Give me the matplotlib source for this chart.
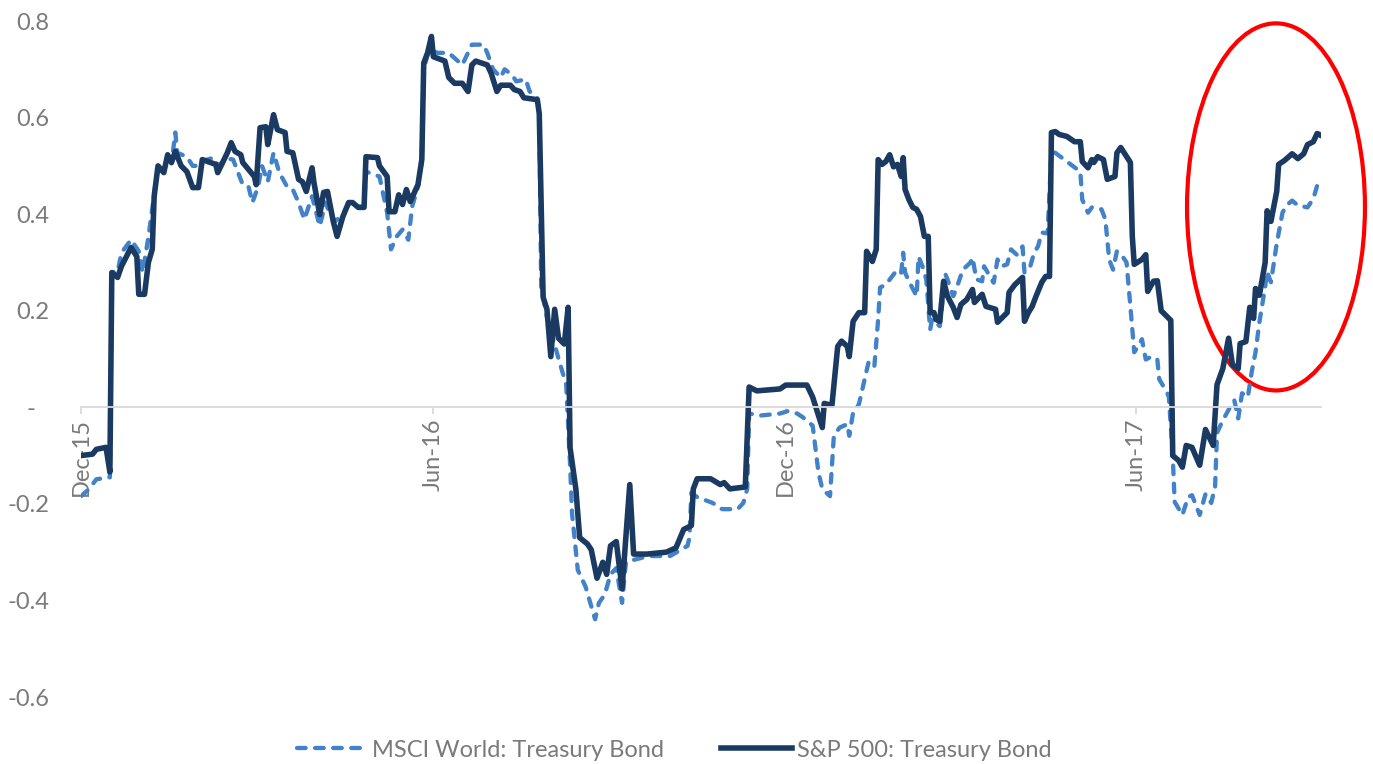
import matplotlib

matplotlib.use("Agg")
import matplotlib.dates as mdates
import matplotlib.pyplot as plt
import pandas as pd
from matplotlib.patches import Ellipse
from matplotlib.transforms import ScaledTranslation

plt.rcParams["font.family"] = ["Lato", "DejaVu Sans"]

START = pd.Timestamp("2015-12-01")
END_DAY = 644

# S&P 500 vs Treasury Bond correlation (days since 1 Dec 2015, value)
sp_days = [0, 6, 8, 13, 15, 16, 19, 21, 26, 29,
           30, 33, 35, 37, 38, 40, 43, 45, 47, 49,
           52, 55, 58, 61, 63, 70, 71, 76, 78, 80,
           83, 84, 90, 91, 93, 96, 97, 100, 102, 106,
           107, 110, 113, 115, 117, 120, 121, 124, 126, 128,
           131, 133, 136, 139, 141, 144, 147, 148, 154, 155,
           159, 160, 163, 165, 167, 169, 171, 175, 177, 178,
           180, 182, 183, 189, 191, 194, 198, 201, 203, 205,
           211, 213, 216, 218, 223, 225, 228, 230, 237, 238,
           240, 242, 244, 246, 248, 251, 253, 254, 257, 259,
           263, 265, 268, 271, 273, 275, 278, 281, 285, 287,
           294, 304, 309, 313, 317, 318, 320, 327, 332, 334,
           337, 345, 347, 351, 363, 366, 377, 380, 385, 386,
           390, 393, 395, 398, 399, 401, 404, 407, 408, 411,
           413, 414, 416, 418, 420, 422, 424, 426, 427, 428,
           430, 432, 434, 436, 438, 440, 441, 443, 444, 446,
           448, 450, 453, 455, 457, 460, 463, 464, 468, 470,
           475, 476, 479, 481, 482, 485, 489, 490, 492, 494,
           496, 499, 501, 503, 504, 506, 508, 512, 516, 519,
           520, 523, 525, 526, 528, 531, 533, 537, 538, 540,
           545, 546, 547, 551, 553, 554, 557, 559, 561, 564,
           566, 567, 570, 572, 574, 577, 581, 584, 588, 590,
           593, 596, 598, 601, 602, 605, 607, 609, 610, 612,
           615, 616, 618, 621, 622, 625, 629, 632, 635, 637,
           640, 642, 644]
sp_vals = [-0.100, -0.097, -0.087, -0.083, -0.134, 0.279, 0.269, 0.292, 0.331, 0.312,
           0.234, 0.234, 0.300, 0.327, 0.437, 0.500, 0.486, 0.523, 0.507, 0.530,
           0.500, 0.488, 0.455, 0.455, 0.513, 0.503, 0.486, 0.527, 0.548, 0.530,
           0.523, 0.507, 0.478, 0.461, 0.579, 0.581, 0.544, 0.606, 0.575, 0.569,
           0.530, 0.527, 0.472, 0.467, 0.447, 0.496, 0.465, 0.399, 0.445, 0.447,
           0.385, 0.354, 0.395, 0.424, 0.424, 0.414, 0.414, 0.519, 0.517, 0.500,
           0.478, 0.405, 0.405, 0.440, 0.420, 0.451, 0.426, 0.461, 0.513, 0.713,
           0.734, 0.768, 0.726, 0.717, 0.683, 0.671, 0.671, 0.654, 0.709, 0.717,
           0.709, 0.692, 0.654, 0.667, 0.667, 0.658, 0.654, 0.641, 0.637, 0.608,
           0.228, 0.203, 0.105, 0.203, 0.143, 0.131, 0.207, -0.084, -0.169, -0.270,
           -0.283, -0.295, -0.354, -0.321, -0.346, -0.287, -0.278, -0.376, -0.160, -0.304,
           -0.304, -0.300, -0.291, -0.253, -0.245, -0.169, -0.148, -0.148, -0.160, -0.156,
           -0.169, -0.165, 0.042, 0.034, 0.038, 0.046, 0.046, 0.021, -0.042, 0.008,
           0.004, 0.126, 0.137, 0.126, 0.105, 0.178, 0.196, 0.196, 0.323, 0.302,
           0.327, 0.513, 0.503, 0.509, 0.523, 0.498, 0.503, 0.478, 0.517, 0.451,
           0.430, 0.414, 0.410, 0.395, 0.354, 0.354, 0.196, 0.196, 0.182, 0.178,
           0.261, 0.230, 0.207, 0.186, 0.213, 0.223, 0.244, 0.217, 0.234, 0.209,
           0.203, 0.176, 0.188, 0.196, 0.238, 0.254, 0.269, 0.178, 0.196, 0.209,
           0.230, 0.259, 0.271, 0.271, 0.569, 0.571, 0.565, 0.561, 0.550, 0.550,
           0.509, 0.496, 0.513, 0.507, 0.519, 0.513, 0.472, 0.478, 0.527, 0.538,
           0.507, 0.354, 0.296, 0.306, 0.316, 0.240, 0.261, 0.262, 0.200, 0.188,
           0.180, -0.100, -0.110, -0.124, -0.079, -0.083, -0.120, -0.046, -0.079, 0.047,
           0.080, 0.143, 0.088, 0.080, 0.132, 0.136, 0.207, 0.184, 0.246, 0.232,
           0.300, 0.407, 0.385, 0.447, 0.503, 0.511, 0.525, 0.515, 0.525, 0.544,
           0.550, 0.567, 0.563]

# MSCI World vs Treasury Bond correlation
msci_days = [0, 4, 8, 15, 16, 19, 21, 26, 30, 32,
             35, 38, 40, 43, 45, 47, 49, 50, 55, 58,
             61, 63, 69, 71, 76, 79, 82, 84, 87, 89,
             92, 94, 97, 100, 103, 107, 110, 113, 116, 120,
             124, 127, 129, 132, 136, 139, 144, 147, 148, 155,
             159, 161, 164, 167, 170, 172, 175, 177, 178, 180,
             182, 185, 191, 198, 203, 209, 211, 214, 218, 220,
             224, 226, 231, 233, 237, 238, 239, 242, 248, 252,
             254, 255, 258, 262, 267, 269, 272, 275, 278, 281,
             283, 287, 295, 306, 315, 316, 317, 320, 328, 333,
             341, 344, 346, 347, 353, 363, 367, 372, 375, 380,
             383, 385, 389, 391, 394, 398, 399, 401, 404, 407,
             409, 412, 414, 415, 418, 422, 424, 426, 427, 428,
             430, 434, 435, 437, 439, 441, 442, 446, 449, 450,
             453, 455, 458, 462, 463, 465, 468, 469, 474, 476,
             478, 481, 483, 486, 489, 490, 493, 495, 497, 499,
             502, 504, 506, 519, 520, 523, 525, 530, 532, 534,
             536, 538, 541, 543, 545, 547, 549, 551, 553, 556,
             559, 560, 564, 565, 567, 568, 572, 575, 577, 581,
             584, 587, 589, 590, 593, 597, 599, 601, 603, 606,
             608, 610, 612, 615, 616, 618, 621, 624, 626, 629,
             632, 637, 640, 642]
msci_vals = [-0.184, -0.170, -0.149, -0.145, 0.280, 0.280, 0.320, 0.347, 0.323, 0.279,
             0.352, 0.440, 0.500, 0.490, 0.520, 0.505, 0.569, 0.527, 0.519, 0.500,
             0.500, 0.510, 0.517, 0.500, 0.515, 0.513, 0.482, 0.461, 0.457, 0.424,
             0.457, 0.500, 0.467, 0.527, 0.486, 0.457, 0.451, 0.424, 0.389, 0.437,
             0.375, 0.424, 0.403, 0.385, 0.400, 0.420, 0.415, 0.415, 0.488, 0.478,
             0.403, 0.327, 0.354, 0.368, 0.347, 0.416, 0.457, 0.510, 0.700, 0.730,
             0.740, 0.734, 0.734, 0.709, 0.751, 0.751, 0.734, 0.700, 0.683, 0.700,
             0.688, 0.675, 0.679, 0.654, 0.640, 0.610, 0.250, 0.186, 0.101, 0.046,
             -0.118, -0.219, -0.337, -0.371, -0.439, -0.405, -0.388, -0.346, -0.333, -0.405,
             -0.321, -0.316, -0.308, -0.308, -0.287, -0.270, -0.177, -0.186, -0.198, -0.211,
             -0.211, -0.198, -0.169, -0.013, -0.017, -0.013, -0.008, -0.013, -0.021, -0.038,
             -0.135, -0.169, -0.184, -0.059, -0.042, -0.035, -0.059, -0.011, 0.006, 0.058,
             0.093, 0.083, 0.182, 0.248, 0.254, 0.275, 0.285, 0.279, 0.320, 0.279,
             0.261, 0.230, 0.312, 0.292, 0.265, 0.161, 0.182, 0.168, 0.275, 0.265,
             0.230, 0.250, 0.285, 0.300, 0.310, 0.265, 0.261, 0.292, 0.258, 0.306,
             0.292, 0.296, 0.327, 0.316, 0.333, 0.279, 0.292, 0.320, 0.333, 0.362,
             0.360, 0.530, 0.527, 0.488, 0.430, 0.403, 0.414, 0.410, 0.389, 0.306,
             0.285, 0.323, 0.312, 0.300, 0.209, 0.114, 0.126, 0.141, 0.099, 0.105,
             0.099, 0.058, 0.031, 0.021, -0.101, -0.196, -0.223, -0.186, -0.182, -0.223,
             -0.180, -0.198, -0.164, -0.053, -0.027, 0.002, 0.014, -0.023, 0.029, 0.021,
             0.073, 0.114, 0.176, 0.250, 0.281, 0.259, 0.339, 0.403, 0.418, 0.428,
             0.418, 0.414, 0.432, 0.459]

y_ticks = [-0.6, -0.4, -0.2, 0.0, 0.2, 0.4, 0.6, 0.8]
y_labels = ["-0.6", "-0.4", "-0.2", "-", "0.2", "0.4", "0.6", "0.8"]
x_ticks = ["2015-12-01", "2016-06-01", "2016-12-01", "2017-06-01"]

MSCI_COLOR = "#4282c8"
SP_COLOR = "#1a3a62"
GREY = "#7a7a7a"


def to_dates(days):
    return START + pd.to_timedelta(days, unit="D")


fig = plt.figure(figsize=(13.73, 7.64), dpi=100)
ax = fig.add_axes([81 / 1373, 1 - 697 / 764, 1240 / 1373, 676 / 764])

ax.plot(to_dates(msci_days), msci_vals, color=MSCI_COLOR, lw=3.1,
        linestyle=(0, (2.0, 2.2)), dash_capstyle="round",
        label="MSCI World: Treasury Bond")
ax.plot(to_dates(sp_days), sp_vals, color=SP_COLOR, lw=4.0,
        solid_joinstyle="round", label="S&P 500: Treasury Bond")

ax.set_xlim(START, START + pd.Timedelta(days=END_DAY))
ax.set_ylim(-0.6, 0.8)

for side in ("top", "right", "left"):
    ax.spines[side].set_visible(False)
ax.spines["bottom"].set_position(("data", 0))
ax.spines["bottom"].set_color("#d9d9d9")
ax.spines["bottom"].set_linewidth(1.3)

ax.set_xticks(pd.to_datetime(x_ticks))
ax.xaxis.set_major_formatter(mdates.DateFormatter("%b-%y"))
ax.tick_params(axis="x", direction="out", length=5, width=1.3, color="#d9d9d9",
               labelsize=17, labelcolor=GREY, labelrotation=90, pad=3)

ax.set_yticks(y_ticks)
ax.set_yticklabels(y_labels)
ax.tick_params(axis="y", length=0, labelsize=17, labelcolor=GREY, pad=23)
for lab in ax.get_yticklabels():
    if lab.get_text() == "-":
        lab.set_transform(lab.get_transform()
                          + ScaledTranslation(-10 / 72, 0, fig.dpi_scale_trans))

# red highlight ring around the recent divergence
ring = Ellipse((0.9637, 0.725), 0.1435, 0.543, transform=ax.transAxes,
               fill=False, edgecolor="#ff0000", lw=3, clip_on=False)
ax.add_patch(ring)

fig.legend(loc="center", bbox_to_anchor=(0.491, 0.018), ncol=2, frameon=False,
           fontsize=17, labelcolor=GREY, handlelength=3, handletextpad=0.2,
           columnspacing=2.4)

fig.savefig("out.png", dpi=100)
